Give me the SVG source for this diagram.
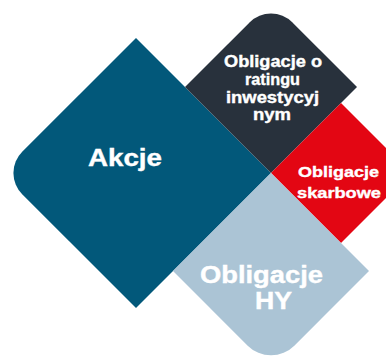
<svg xmlns="http://www.w3.org/2000/svg" width="386" height="356" viewBox="0 0 386 356">
<style>
.t{font-family:"Liberation Sans",Arial,sans-serif;font-weight:bold;fill:#FFFFFF;stroke:#FFFFFF;stroke-width:0.4;text-anchor:middle}
.big{font-size:24.5px}
.mid{font-size:16.5px}
.sm{font-size:15.5px}
</style>
<rect width="386" height="356" fill="#FFFFFF"/>
<g id="akcje">
<path d="M136,38 L271,173 L136,308 L22.2,194.2 A30,30 0 0 1 22.2,151.8 Z" fill="#02587A"/>
<text class="t big" x="125" y="166" textLength="74" lengthAdjust="spacingAndGlyphs">Akcje</text>
</g>
<g id="inwestycyjne">
<path d="M271,173 L185,87 L249.8,22.2 A30,30 0 0 1 292.2,22.2 L357,87 Z" fill="#28313C"/>
<text class="t mid" x="273" y="67" textLength="98" lengthAdjust="spacingAndGlyphs">Obligacje o</text>
<text class="t mid" x="272.5" y="85" textLength="55" lengthAdjust="spacingAndGlyphs">ratingu</text>
<text class="t mid" x="272.5" y="102.5" textLength="93" lengthAdjust="spacingAndGlyphs">inwestycyj</text>
<text class="t mid" x="272" y="120" textLength="38" lengthAdjust="spacingAndGlyphs">nym</text>
</g>
<g id="skarbowe">
<path d="M271,173 L341,103 L389.8,151.8 A30,30 0 0 1 389.8,194.2 L341,243 Z" fill="#E30613"/>
<text class="t sm" x="338.5" y="176.5" textLength="81" lengthAdjust="spacingAndGlyphs">Obligacje</text>
<text class="t sm" x="339" y="198" textLength="84" lengthAdjust="spacingAndGlyphs">skarbowe</text>
</g>
<g id="hy">
<path d="M271,173 L369,271 L294.3,345.7 A33,33 0 0 1 247.7,345.7 L173,271 Z" fill="#ABC4D5"/>
<text class="t big" x="261.5" y="283" textLength="123" lengthAdjust="spacingAndGlyphs">Obligacje</text>
<text class="t big" x="273.5" y="308.5" textLength="37" lengthAdjust="spacingAndGlyphs">HY</text>
</g>
<g id="connectors"/>
</svg>
